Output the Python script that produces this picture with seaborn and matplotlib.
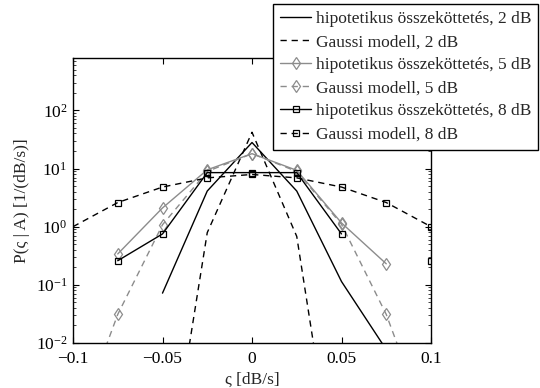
import numpy as np
import pandas as pd
import matplotlib
matplotlib.use("Agg")
import matplotlib.pyplot as plt
import seaborn as sns

sns.set_style("ticks")
plt.rcParams["font.family"] = ["Liberation Serif", "DejaVu Serif"]
plt.rcParams["mathtext.fontset"] = "stix"
plt.rcParams["mathtext.default"] = "regular"

# rate of change of fade level, dB/s
xi = [-0.1, -0.075, -0.05, -0.025, 0.0, 0.025, 0.05, 0.075, 0.1]

# conditional densities P(xi | A); 0 means no value at that point
hipo_2db = [0, 0, 0.072, 4.1, 28, 4.1, 0.114, 0.0077, 0]
gauss_2db = [0, 0, 1.2e-5, 0.79, 42, 0.68, 8e-6, 0, 0]
hipo_5db = [0, 0.34, 2.1, 9.5, 18, 9.3, 1.16, 0.23, 0]
gauss_5db = [2.6e-4, 0.031, 1.08, 8.9, 18, 8.9, 1.1, 0.031, 2.6e-4]
hipo_8db = [0, 0.26, 0.75, 8.5, 8.5, 8.5, 0.75, 0, 0.26]
gauss_8db = [1.0, 2.6, 4.8, 6.9, 7.9, 6.9, 4.8, 2.6, 1.0]

labels = [
    "hipotetikus összeköttetés, 2 dB",
    "Gaussi modell, 2 dB",
    "hipotetikus összeköttetés, 5 dB",
    "Gaussi modell, 5 dB",
    "hipotetikus összeköttetés, 8 dB",
    "Gaussi modell, 8 dB",
]

x_ticks = [-0.1, -0.05, 0.0, 0.05, 0.1]
x_ticklabels = ["\u22120.1", "\u22120.05", "0", "0.05", "0.1"]

GRAY = "0.55"
DASH = (0, (4.5, 3.5))
styles = [
    dict(vals=hipo_2db, color="black", linestyle="-", marker=None),
    dict(vals=gauss_2db, color="black", linestyle=DASH, marker=None),
    dict(vals=hipo_5db, color=GRAY, linestyle="-", marker="d"),
    dict(vals=gauss_5db, color=GRAY, linestyle=DASH, marker="d"),
    dict(vals=hipo_8db, color="black", linestyle="-", marker="s"),
    dict(vals=gauss_8db, color="black", linestyle=DASH, marker="s",
         markevery=list(range(1, 9))),
]


def to_frame(vals):
    """Keep positive values and number each unbroken run as its own unit."""
    seg, prev, rows = 0, False, []
    for x, v in zip(xi, vals):
        pos = v > 0
        if pos and not prev:
            seg += 1
        if pos:
            rows.append((x, v, seg))
        prev = pos
    return pd.DataFrame(rows, columns=["xi", "p", "seg"])


fig = plt.figure(figsize=(5.4, 3.88), dpi=100)
ax = fig.add_axes([73 / 540, 1 - 343 / 388, (431 - 73) / 540, (343 - 58) / 388])
ax.set_yscale("log")

handles = []
for st in styles:
    df = to_frame(st["vals"])
    n0 = len(ax.lines)
    kws = dict(color=st["color"], linestyle=st["linestyle"], linewidth=1.0)
    if st["marker"]:
        kws.update(marker=st["marker"], markersize=6 if st["marker"] == "d" else 4.8,
                   markerfacecolor="none", markeredgecolor=st["color"],
                   markeredgewidth=0.9)
        if "markevery" in st:
            kws["markevery"] = st["markevery"]
    sns.lineplot(data=df, x="xi", y="p", units="seg", estimator=None,
                 ax=ax, legend=False, **kws)
    handles.append(ax.lines[n0])

ax.set_xlim(-0.1, 0.1)
ax.set_ylim(1e-2, 10 ** 2.9)
ax.set_xticks(x_ticks)
ax.set_xticklabels(x_ticklabels)

ax.tick_params(which="major", direction="in", length=4, width=0.8,
               top=True, right=True, labelsize=12.5, colors="black")
ax.tick_params(axis="x", which="major", pad=6)
ax.tick_params(axis="y", which="major", pad=4)
ax.tick_params(which="minor", direction="in", length=2, width=0.6,
               top=False, right=True, left=True)
for sp in ax.spines.values():
    sp.set_visible(True)
    sp.set_color("black")
    sp.set_linewidth(1.0)

ax.set_xlabel("\u03c2 [dB/s]", fontsize=12.5, labelpad=3)
ax.set_ylabel("P(\u03c2 | A) [1/(dB/s)]", fontsize=12.5, labelpad=4)

leg = ax.legend(handles, labels, loc="upper right",
                bbox_to_anchor=(538 / 540, 1 - 4 / 388),
                bbox_transform=fig.transFigure, borderaxespad=0,
                fontsize=12.5, handlelength=1.8, handletextpad=0.25,
                borderpad=0.4, labelspacing=0.4, numpoints=1,
                frameon=True, fancybox=False, framealpha=1,
                edgecolor="black")
leg.get_frame().set_linewidth(1.0)

fig.savefig("out.png", dpi=100)
